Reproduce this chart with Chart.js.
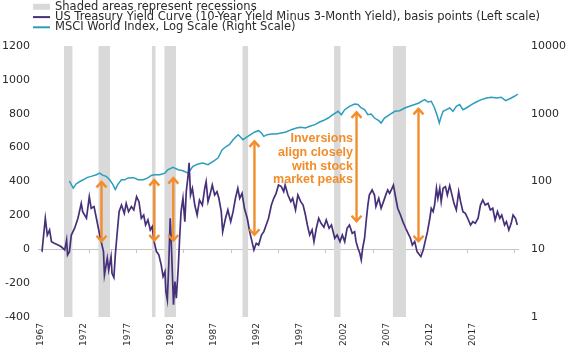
<!DOCTYPE html>
<html><head><meta charset="utf-8">
<script src="https://cdn.jsdelivr.net/npm/chart.js@4.4.1/dist/chart.umd.min.js"></script>
<style>html,body{margin:0;padding:0;background:#fff;}#wrap{width:570px;height:350px;}</style>
</head><body><div id="wrap"><canvas id="c" width="570" height="350"></canvas></div>
<script>
// ---- data ----
const spreadYears = [1967.0,1967.35,1967.56,1967.8,1968.0,1968.3,1968.7,1969.0,1969.4,1969.6,1969.7,1969.9,1970.1,1970.45,1970.8,1971.15,1971.3,1971.7,1972.0,1972.2,1972.5,1972.75,1973.1,1973.3,1973.5,1973.6,1973.9,1974.05,1974.3,1974.4,1974.6,1974.75,1974.9,1975.15,1975.4,1975.7,1975.9,1976.15,1976.45,1976.7,1977.0,1977.25,1977.5,1977.75,1977.95,1978.2,1978.45,1978.65,1978.85,1979.1,1979.35,1979.6,1979.8,1980.0,1980.1,1980.25,1980.4,1980.55,1980.65,1980.75,1980.9,1981.05,1981.2,1981.4,1981.55,1981.7,1981.9,1982.1,1982.25,1982.45,1982.55,1982.7,1982.9,1983.15,1983.4,1983.65,1983.95,1984.2,1984.35,1984.55,1984.8,1985.0,1985.25,1985.5,1985.7,1985.95,1986.1,1986.4,1986.65,1986.95,1987.2,1987.45,1987.7,1987.9,1988.15,1988.4,1988.7,1988.95,1989.2,1989.4,1989.65,1989.9,1990.2,1990.45,1990.7,1990.95,1991.25,1991.5,1991.75,1992.0,1992.3,1992.55,1992.7,1993.0,1993.3,1993.5,1993.8,1994.05,1994.35,1994.6,1994.85,1995.05,1995.3,1995.55,1995.75,1996.0,1996.25,1996.5,1996.8,1997.05,1997.35,1997.6,1997.95,1998.2,1998.5,1998.75,1999.0,1999.25,1999.5,1999.8,2000.05,2000.2,2000.4,2000.6,2000.75,2000.9,2001.1,2001.3,2001.45,2001.6,2001.9,2002.15,2002.3,2002.6,2002.85,2003.1,2003.4,2003.55,2003.75,2004.0,2004.15,2004.4,2004.6,2004.9,2005.15,2005.45,2005.7,2005.95,2006.15,2006.4,2006.65,2006.9,2007.05,2007.3,2007.5,2007.75,2008.0,2008.15,2008.35,2008.5,2008.7,2008.85,2009.05,2009.2,2009.4,2009.65,2009.85,2010.1,2010.3,2010.55,2010.8,2011.05,2011.25,2011.5,2011.75,2012.0,2012.3,2012.55,2012.8,2013.1,2013.35,2013.6,2013.85,2014.15,2014.4,2014.65,2014.9,2015.15,2015.4,2015.6,2015.9,2016.1,2016.35,2016.6,2016.8,2017.05,2017.25];
const spreadValues = [-14,183,84,114,45,35,25,16,-4,55,-33,-14,84,124,183,271,222,183,311,242,252,183,84,35,-14,-152,-53,-122,-43,-142,-167,-33,65,222,261,212,271,222,252,232,311,281,183,202,143,173,114,134,45,-14,-33,-92,-161,-132,-250,-299,-92,183,65,-92,-328,-191,-289,-112,65,222,301,163,340,438,510,320,360,261,202,291,261,360,399,281,330,379,320,340,301,222,104,183,232,163,222,301,360,301,330,242,183,104,45,-4,35,25,84,104,143,183,261,301,330,379,370,340,379,320,281,301,232,320,281,261,202,143,84,114,45,124,183,153,130,173,124,143,65,84,45,84,45,124,143,94,104,45,6,-24,-63,6,65,183,261,320,350,320,252,301,242,281,330,350,330,360,379,301,242,202,163,124,94,65,25,45,-14,-33,-43,-4,45,104,183,242,222,261,360,301,360,281,360,370,320,376,330,271,232,340,281,222,212,183,143,163,153,183,261,291,261,271,232,242,173,222,183,202,143,163,114,153,202,183,143];
const msciYears = [1969.9,1970.3,1970.6,1971.0,1971.35,1971.8,1972.2,1972.75,1973.1,1973.45,1973.8,1974.15,1974.5,1974.75,1975.0,1975.4,1975.75,1976.1,1976.7,1977.15,1977.7,1978.2,1978.55,1978.9,1979.45,1980.0,1980.3,1980.85,1981.4,1981.9,1982.45,1982.7,1982.95,1983.5,1984.0,1984.55,1985.1,1985.6,1986.05,1986.5,1986.8,1987.2,1987.55,1987.75,1988.25,1988.6,1989.05,1989.5,1989.9,1990.2,1990.45,1990.8,1991.25,1991.75,1992.3,1992.8,1993.35,1993.9,1994.35,1994.85,1995.3,1995.85,1996.35,1996.8,1997.25,1997.75,1998.3,1998.65,1999.0,1999.5,2000.05,2000.4,2000.75,2001.1,2001.45,2001.8,2002.15,2002.6,2002.85,2003.2,2003.75,2004.3,2004.8,2005.35,2005.85,2006.4,2006.85,2007.1,2007.45,2007.8,2008.15,2008.5,2008.8,2009.0,2009.15,2009.4,2009.75,2010.1,2010.45,2010.8,2011.15,2011.5,2011.85,2012.4,2012.9,2013.45,2014.0,2014.5,2015.05,2015.55,2016.0,2016.45,2016.95,2017.3];
const msciValues = [101,80,92,100,106,115,119,126,133,123,119,106,90,76,90,106,106,113,114,106,106,113,123,126,126,133,149,162,149,144,133,149,168,181,188,177,199,222,295,331,350,414,464,491,414,449,491,538,562,520,464,491,502,502,520,538,582,617,631,617,653,690,756,800,865,968,1086,968,1148,1288,1393,1367,1216,1148,968,991,865,790,730,865,968,1086,1109,1216,1288,1367,1442,1528,1615,1490,1528,1216,916,730,865,1086,1148,1216,1086,1288,1367,1148,1216,1367,1490,1615,1707,1750,1707,1750,1560,1667,1810,1957];
const recessionStarts = [1969.9,1973.875,1980.06,1981.51,1990.54,2001.16,2007.95];
const recessionEnds   = [1970.91,1975.23,1980.52,1982.87,1991.24,2001.93,2009.49];
const leftTicks  = [-400,-200,0,200,400,600,800,1000,1200];
const rightTicks = [1,10,100,1000,10000];
const yearTicks  = [1967,1972,1977,1982,1987,1992,1997,2002,2007,2012,2017];
const arrowYears   = [1973.29,1978.87,1980.88,1989.46,2000.25,2006.8];
const arrowTops    = [401,411,423,640,811,832];
const arrowBottoms = [44,49,49,83,162,44];
const noteLines  = ['Inversions','align closely','with stock','market peaks'];
const noteValues = [653,568,490,411];
const noteYear   = 1999.88;
const legendTexts = ['Shaded areas represent recessions','US Treasury Yield Curve (10-Year Yield Minus 3-Month Yield), basis points (Left scale)','MSCI World Index, Log Scale (Right Scale)'];

// ---- styles ----
const PURPLE = '#46307a', TEAL = '#2b9dbd', GREY = '#d9d9d9', ORANGE = '#f28d2b', AXIS = '#c4c4c4', TXT = '#2a2a2a';
const tickFont = {family: 'DejaVu Sans', size: 11};

const recData = [];
recessionStarts.forEach((s, i) => {
  recData.push({x: s, y: 1200}, {x: recessionEnds[i], y: 1200}, {x: recessionEnds[i], y: null});
});

// legend drawn from the datasets' own labels and colours
const topLegend = {
  id: 'topLegend',
  afterDraw(chart) {
    const ctx = chart.ctx;
    const rowsY = [6.8, 17.1, 27.3];
    ctx.save();
    ctx.font = '11.5px "DejaVu Sans"'; ctx.textBaseline = 'middle'; ctx.textAlign = 'left';
    chart.data.datasets.forEach((ds, i) => {
      const y = rowsY[i];
      if (ds.pointStyle === 'rect') {
        ctx.fillStyle = ds.backgroundColor; ctx.fillRect(33, y - 3, 17, 6);
      } else {
        ctx.strokeStyle = ds.borderColor; ctx.lineWidth = 2;
        ctx.beginPath(); ctx.moveTo(33, y); ctx.lineTo(50, y); ctx.stroke();
      }
      ctx.fillStyle = TXT; ctx.fillText(ds.label, 55, y);
    });
    ctx.restore();
  }
};

const decor = {
  id: 'decor',
  afterDatasetsDraw(chart) {
    const ctx = chart.ctx, xs = chart.scales.x, ys = chart.scales.y;
    ctx.save();
    ctx.strokeStyle = ORANGE; ctx.lineWidth = 2.4; ctx.lineCap = 'butt'; ctx.lineJoin = 'miter';
    arrowYears.forEach((yr, i) => {
      const x = xs.getPixelForValue(yr), yt = ys.getPixelForValue(arrowTops[i]), yb = ys.getPixelForValue(arrowBottoms[i]);
      ctx.beginPath(); ctx.moveTo(x, yt + 1); ctx.lineTo(x, yb - 1); ctx.stroke();
      ctx.beginPath(); ctx.moveTo(x - 5, yt + 6); ctx.lineTo(x, yt + 0.5); ctx.lineTo(x + 5, yt + 6); ctx.stroke();
      ctx.beginPath(); ctx.moveTo(x - 5, yb - 6); ctx.lineTo(x, yb - 0.5); ctx.lineTo(x + 5, yb - 6); ctx.stroke();
    });
    ctx.fillStyle = ORANGE; ctx.font = 'bold 12.5px "Liberation Sans"'; ctx.textAlign = 'right'; ctx.textBaseline = 'middle';
    const nx = xs.getPixelForValue(noteYear);
    noteLines.forEach((t, i) => ctx.fillText(t, nx, ys.getPixelForValue(noteValues[i])));
    ctx.restore();
  }
};

new Chart(document.getElementById('c'), {
  type: 'line',
  data: {
    datasets: [
      {label: legendTexts[0], data: recData, xAxisID: 'x2', yAxisID: 'y', fill: 'start', backgroundColor: GREY, borderColor: GREY, borderWidth: 0, pointRadius: 0, pointStyle: 'rect', spanGaps: false, order: 10},
      {label: legendTexts[1], data: spreadYears.map((x, i) => ({x, y: spreadValues[i]})), xAxisID: 'x', yAxisID: 'y', borderColor: PURPLE, backgroundColor: PURPLE, borderWidth: 1.7, pointRadius: 0, pointStyle: 'line', tension: 0, order: 1},
      {label: legendTexts[2], data: msciYears.map((x, i) => ({x, y: msciValues[i]})), xAxisID: 'x', yAxisID: 'y2', borderColor: TEAL, backgroundColor: TEAL, borderWidth: 1.5, pointRadius: 0, pointStyle: 'line', tension: 0, order: 2}
    ]
  },
  options: {
    responsive: false, animation: false, devicePixelRatio: 1,
    layout: {padding: {top: 46, left: 0, right: 0, bottom: 0}},
    plugins: {
      tooltip: {enabled: false},
      filler: {drawTime: 'beforeDatasetsDraw'},
      legend: {display: false}
    },
    scales: {
      x: {type: 'linear', position: {y: 0}, min: 1966.577, max: 2017.32,
        afterBuildTicks: s => { s.ticks = yearTicks.map(v => ({value: v})); },
        ticks: {display: false},
        grid: {display: true, drawOnChartArea: false, drawTicks: true, tickLength: 3, color: AXIS},
        border: {display: true, color: AXIS, width: 1}},
      x2: {type: 'linear', position: 'bottom', min: 1966.896, max: 2022.45,
        afterBuildTicks: s => { s.ticks = yearTicks.map(v => ({value: v})); },
        afterFit: s => { s.height = 33; },
        ticks: {autoSkip: false, minRotation: 90, maxRotation: 90, padding: 6, labelOffset: 2, color: TXT,
          font: {family: 'DejaVu Sans', size: 9}, callback: v => String(v)},
        grid: {display: false, drawTicks: false}, border: {display: false}},
      y: {type: 'linear', position: 'left', min: -400, max: 1200,
        afterBuildTicks: s => { s.ticks = leftTicks.map(v => ({value: v})); },
        afterFit: s => { s.width = 38; },
        ticks: {padding: 8, color: TXT, font: tickFont, callback: v => String(v)},
        grid: {display: false, drawTicks: false}, border: {display: false}},
      y2: {type: 'logarithmic', position: 'right', min: 1, max: 10000,
        afterBuildTicks: s => { s.ticks = rightTicks.map(v => ({value: v})); },
        afterFit: s => { s.width = 52; },
        ticks: {padding: 13, color: TXT, font: tickFont, callback: v => String(v)},
        grid: {display: false, drawTicks: false}, border: {display: false}}
    }
  },
  plugins: [topLegend, decor]
});
</script></body></html>
